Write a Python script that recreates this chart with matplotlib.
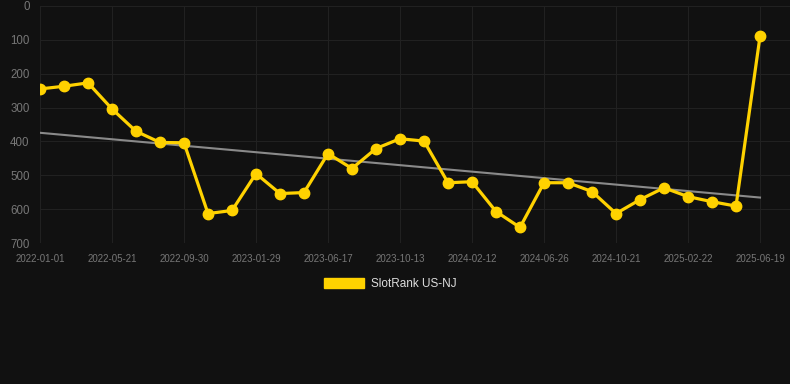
import numpy as np
import matplotlib.pyplot as plt
from matplotlib.patches import Patch

plt.rcParams['font.family'] = ['Liberation Sans', 'DejaVu Sans']

# rank values, one point per sample (axis is categorical)
ranks = [245, 237, 227, 304, 370, 403, 404, 613, 604, 495,
         554, 551, 436, 480, 421, 392, 399, 522, 519, 607,
         654, 522, 522, 548, 613, 572, 537, 563, 578, 591, 90]
tick_labels = ['2022-01-01', '2022-05-21', '2022-09-30', '2023-01-29', '2023-06-17',
               '2023-10-13', '2024-02-12', '2024-06-26', '2024-10-21', '2025-02-22',
               '2025-06-19']
series_name = 'SlotRank US-NJ'

bg = '#111111'
yellow = '#FFD200'

x = np.arange(len(ranks))
slope, intercept = np.polyfit(x, ranks, 1)

fig = plt.figure(figsize=(7.9, 3.84), dpi=100, facecolor=bg)
ax = fig.add_axes([40/790, 1 - 243/384, 750/790, 237/384])
ax.set_facecolor(bg)

ax.plot(x, slope * x + intercept, color='#8a8a8a', lw=1.5, zorder=2)
ax.plot(x, ranks, color=yellow, lw=2.3, marker='o', markersize=7.5, zorder=3)

ax.set_xlim(0, 750/24)
ax.set_ylim(700, 0)
ax.set_yticks(range(0, 701, 100))
ax.set_xticks(x[::3])
ax.set_xticklabels(tick_labels)

for s in ax.spines.values():
    s.set_visible(False)
ax.grid(True, color='#212121', lw=0.8)
ax.set_axisbelow(True)
ax.tick_params(axis='y', length=0, pad=7.5, labelsize=8.3, labelcolor='#777777')
ax.tick_params(axis='x', length=0, pad=8, labelsize=7, labelcolor='#777777')

leg = ax.legend(handles=[Patch(facecolor=yellow, edgecolor=yellow, label=series_name)],
                loc='center', bbox_to_anchor=(390/790, 1 - 284/384),
                bbox_transform=fig.transFigure, frameon=False,
                handlelength=3.4, handleheight=1.0, handletextpad=0.6,
                fontsize=8.5, labelcolor='#dddddd')

fig.savefig('out.png', dpi=100, facecolor=bg)
